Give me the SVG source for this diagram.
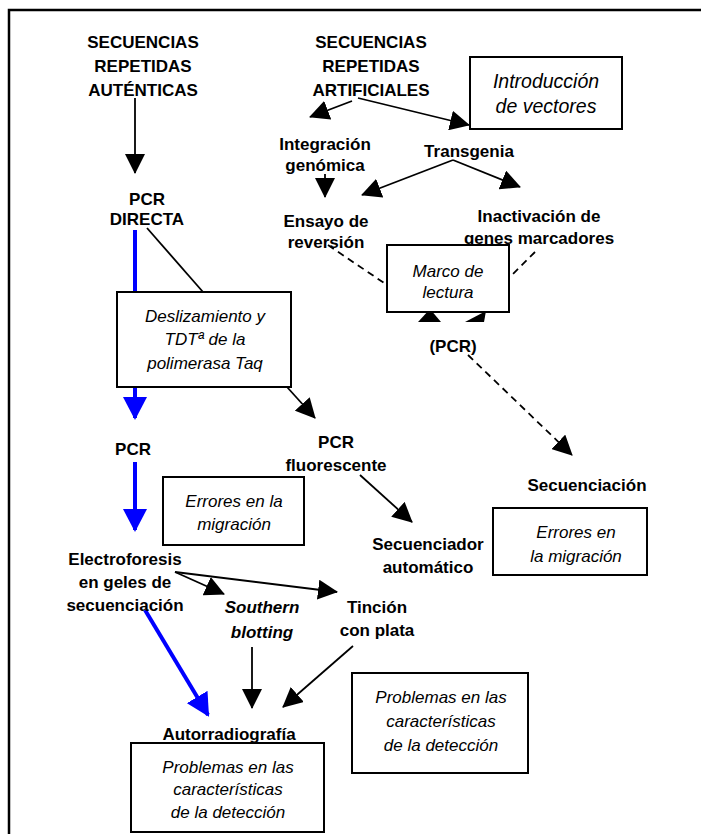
<svg xmlns="http://www.w3.org/2000/svg" width="701" height="834" viewBox="0 0 701 834">
<style>
text{font-family:"Liberation Sans",Arial,sans-serif;font-size:17px;fill:#000;text-anchor:middle}
.b{font-weight:bold}
.i{font-style:italic}
.box{fill:#fff;stroke:#000;stroke-width:2}
.ln{stroke:#000;stroke-width:1.8;fill:none}
.bl{stroke:#0000ff;stroke-width:4;fill:none}
.ds{stroke:#000;stroke-width:1.8;fill:none;stroke-dasharray:7 5}
</style>
<defs>
<marker id="ah" viewBox="0 0 20 20" refX="19" refY="10" markerWidth="20" markerHeight="20" markerUnits="userSpaceOnUse" orient="auto"><path d="M0,0 L20,10 L0,20 z" fill="#000"/></marker>
<marker id="bh" viewBox="0 0 23 24" refX="21" refY="12" markerWidth="23" markerHeight="24" markerUnits="userSpaceOnUse" orient="auto"><path d="M0,0 L23,12 L0,24 z" fill="#0000ff"/></marker>
</defs>
<path d="M9,834 V10 H701" fill="none" stroke="#000" stroke-width="2.5"/>
<g id="connectors">
<line class="ln" x1="135" y1="98" x2="135" y2="173" marker-end="url(#ah)"/>
<line class="bl" x1="135" y1="230" x2="135" y2="418" marker-end="url(#bh)"/>
<line class="ln" x1="147" y1="228" x2="203" y2="292"/>
<line class="ln" x1="287" y1="387" x2="315" y2="418" marker-end="url(#ah)"/>
<line class="bl" x1="135" y1="462" x2="135" y2="530" marker-end="url(#bh)"/>
<line class="ln" x1="175" y1="572" x2="224" y2="594" marker-end="url(#ah)"/>
<line class="ln" x1="175" y1="572" x2="337" y2="592" marker-end="url(#ah)"/>
<line class="ln" x1="252" y1="647" x2="252" y2="708" marker-end="url(#ah)"/>
<line class="ln" x1="353" y1="646" x2="283" y2="707" marker-end="url(#ah)"/>
<line class="bl" x1="145" y1="610" x2="208" y2="715" marker-end="url(#bh)"/>
<line class="ln" x1="358" y1="98" x2="469" y2="125" marker-end="url(#ah)"/>
<line class="ln" x1="352" y1="101" x2="310" y2="117" marker-end="url(#ah)"/>
<line class="ln" x1="325" y1="174" x2="325" y2="197" marker-end="url(#ah)"/>
<line class="ln" x1="453" y1="160" x2="362" y2="195" marker-end="url(#ah)"/>
<line class="ln" x1="453" y1="160" x2="520" y2="187" marker-end="url(#ah)"/>
<line class="ds" x1="328" y1="245" x2="387" y2="285"/>
<line class="ds" x1="535" y1="252" x2="510" y2="277"/>
<polygon points="418,322 430,309 441,322" fill="#000"/>
<polygon points="465,322 486,311 484,322" fill="#000"/>
<line class="ds" x1="468" y1="355" x2="572" y2="455" marker-end="url(#ah)"/>
<line class="ln" x1="360" y1="475" x2="412" y2="522" marker-end="url(#ah)"/>
</g>
<g id="auth"><text class="b" x="143" y="48">SECUENCIAS</text><text class="b" x="143" y="72">REPETIDAS</text><text class="b" x="143" y="96">AUTÉNTICAS</text></g>
<g id="pcrdirecta"><text class="b" x="147" y="205">PCR</text><text class="b" x="147" y="225">DIRECTA</text></g>
<g id="desliz"><rect class="box" x="117" y="292" width="174" height="95"/><text class="i" x="205" y="322">Deslizamiento y</text><text class="i" x="205" y="345">TDTª de la</text><text class="i" x="205" y="369">polimerasa Taq</text></g>
<g id="pcr"><text class="b" x="133" y="455">PCR</text></g>
<g id="errores1"><rect class="box" x="163" y="477" width="141" height="68"/><text class="i" x="234" y="507">Errores en la</text><text class="i" x="234" y="530">migración</text></g>
<g id="electro"><text class="b" x="125" y="565">Electroforesis</text><text class="b" x="125" y="588">en geles de</text><text class="b" x="125" y="611">secuenciación</text></g>
<g id="southern"><text class="b i" x="262" y="613">Southern</text><text class="b i" x="262" y="638">blotting</text></g>
<g id="tincion"><text class="b" x="377" y="613">Tinción</text><text class="b" x="377" y="636">con plata</text></g>
<g id="autorradio"><text class="b" x="229" y="740">Autorradiografía</text></g>
<g id="problemas1"><rect class="box" x="131" y="743" width="193" height="89"/><text class="i" x="228" y="773">Problemas en las</text><text class="i" x="228" y="795">características</text><text class="i" x="228" y="818">de la detección</text></g>
<g id="artif"><text class="b" x="371" y="48">SECUENCIAS</text><text class="b" x="371" y="72">REPETIDAS</text><text class="b" x="371" y="96">ARTIFICIALES</text></g>
<g id="intro"><rect class="box" x="470" y="57" width="152" height="72"/><text class="i" x="546" y="88" style="font-size:19.5px">Introducción</text><text class="i" x="546" y="113" style="font-size:19.5px">de vectores</text></g>
<g id="integ"><text class="b" x="325" y="150">Integración</text><text class="b" x="325" y="171">genómica</text></g>
<g id="transg"><text class="b" x="469" y="157">Transgenia</text></g>
<g id="ensayo"><text class="b" x="326" y="227">Ensayo de</text><text class="b" x="326" y="248">reversión</text></g>
<g id="inact"><text class="b" x="539" y="222">Inactivación de</text><text class="b" x="539" y="244">genes marcadores</text></g>
<g id="marco"><rect class="box" x="387" y="245" width="122" height="67"/><text class="i" x="448" y="277">Marco de</text><text class="i" x="448" y="298">lectura</text></g>
<g id="pcrp"><text class="b" x="453" y="352">(PCR)</text></g>
<g id="secuenciacion"><text class="b" x="587" y="491">Secuenciación</text></g>
<g id="errores2"><rect class="box" x="493" y="508" width="154" height="67"/><text class="i" x="576" y="538">Errores en</text><text class="i" x="576" y="562">la migración</text></g>
<g id="pcrfluo"><text class="b" x="336" y="448">PCR</text><text class="b" x="336" y="471">fluorescente</text></g>
<g id="secuenciador"><text class="b" x="428" y="550">Secuenciador</text><text class="b" x="428" y="573">automático</text></g>
<g id="problemas2"><rect class="box" x="352" y="673" width="176" height="100"/><text class="i" x="441" y="703">Problemas en las</text><text class="i" x="441" y="727">características</text><text class="i" x="441" y="751">de la detección</text></g>
</svg>
